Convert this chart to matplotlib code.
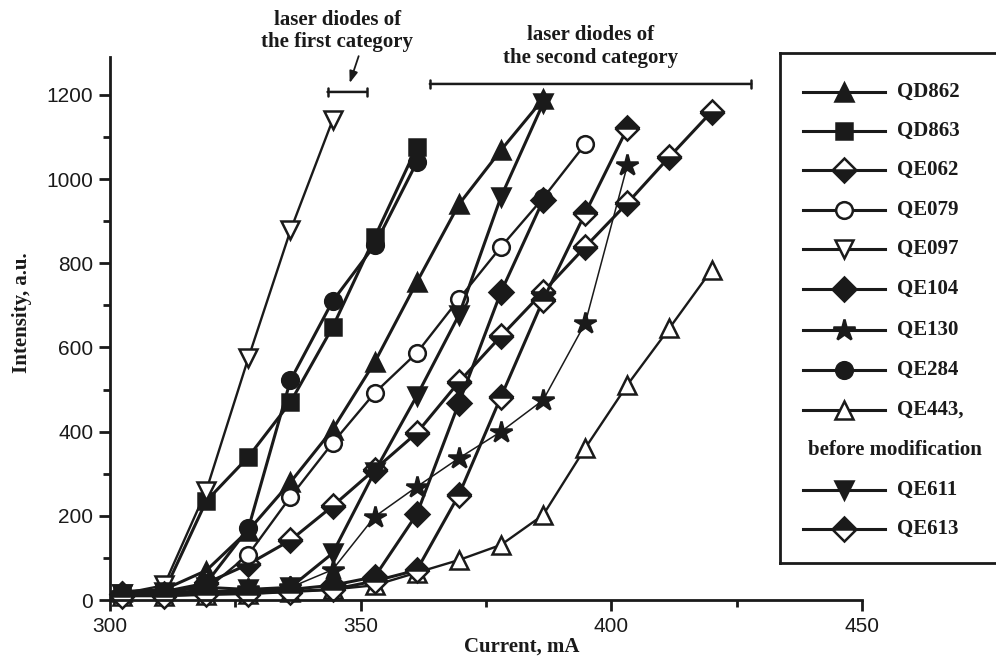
import matplotlib
matplotlib.use("Agg")
import matplotlib.pyplot as plt
from matplotlib.lines import Line2D

# ---------------- data ----------------
currents = [302.4, 310.8, 319.2, 327.6, 336.0, 344.4, 352.8, 361.2, 369.6,
            378.0, 386.4, 394.8, 403.2, 411.6, 420.0]

qd862 = [20, 25, 70, 165, 280, 405, 565, 755, 940, 1069, 1190]
qd863 = [15, 20, 235, 340, 470, 648, 862, 1076]
qe062 = [15, 20, 40, 85, 142, 223, 310, 397, 518, 627, 732, 839, 943, 1053, 1160]
qe079 = [10, 15, 25, 108, 245, 373, 492, 587, 715, 839, 955, 1083]
qe097 = [15, 35, 260, 575, 878, 1140]
qe104 = [15, 15, 20, 20, 25, 35, 55, 204, 468, 732, 950]
qe130 = [15, 15, 20, 25, 30, 72, 198, 269, 337, 400, 475, 658, 1033]
qe284 = [15, 15, 40, 170, 522, 710, 843, 1040]
qe443 = [10, 10, 12, 15, 20, 25, 35, 65, 95, 131, 202, 361, 511, 646, 784]
qe611 = [15, 20, 30, 25, 30, 111, 305, 485, 677, 958, 1180]
qe613 = [10, 10, 15, 15, 20, 25, 45, 71, 250, 483, 713, 919, 1121]

names = ["QD862", "QD863", "QE062", "QE079", "QE097", "QE104", "QE130",
         "QE284", "QE443,", "QE611", "QE613"]
series = [qd862, qd863, qe062, qe079, qe097, qe104, qe130, qe284, qe443, qe611, qe613]

first_cat = [343.4, 351.2]
second_cat = [363.8, 427.9]

# ---------------- styles ----------------
K = "#1a1a1a"
styles = [
    dict(marker="^", mfc=K, ms=13, lw=2.2),
    dict(marker="s", mfc=K, ms=11, lw=2.2),
    dict(marker="D", mfc=K, mfcalt="white", fillstyle="bottom", ms=12, lw=2.2),
    dict(marker="o", mfc="white", ms=12, lw=1.7),
    dict(marker="v", mfc="white", ms=13, lw=1.7),
    dict(marker="D", mfc=K, ms=12, lw=2.2),
    dict(marker="*", mfc=K, ms=16, lw=1.1),
    dict(marker="o", mfc=K, ms=12, lw=2.2),
    dict(marker="^", mfc="white", ms=13, lw=1.7),
    dict(marker="v", mfc=K, ms=13, lw=2.2),
    dict(marker="D", mfc=K, mfcalt="white", fillstyle="top", ms=12, lw=2.2),
]

def kw(st):
    d = dict(color=K, marker=st["marker"], markersize=st["ms"],
             markerfacecolor=st["mfc"], markeredgecolor=K, markeredgewidth=1.8,
             linewidth=st["lw"])
    if "fillstyle" in st:
        d["fillstyle"] = st["fillstyle"]
        d["markerfacecoloralt"] = st["mfcalt"]
    return d

serif = ["Liberation Serif", "DejaVu Serif"]
sans = ["Liberation Sans", "DejaVu Sans"]
FS = 15

W, H = 996, 662
fig = plt.figure(figsize=(W / 100, H / 100), dpi=100)

# main axes: x 300->110px, 450->862px ; y 0->600px, top 57px
ax = fig.add_axes([110 / W, (H - 600) / H, (862 - 110) / W, (600 - 57) / H])
for vals, st in zip(series, styles):
    ax.plot(currents[:len(vals)], vals, clip_on=False, **kw(st))

ax.set_xlim(300, 450)
ax.set_ylim(0, 1290)
ax.set_xticks([300, 350, 400, 450])
ax.set_xticks([325, 375, 425], minor=True)
ax.set_yticks([0, 200, 400, 600, 800, 1000, 1200])
ax.set_yticks([100, 300, 500, 700, 900, 1100], minor=True)
for s in ["top", "right"]:
    ax.spines[s].set_visible(False)
for s in ["left", "bottom"]:
    ax.spines[s].set_linewidth(2.0)
    ax.spines[s].set_color(K)
ax.tick_params(which="major", direction="out", length=8, width=2, color=K,
               labelsize=FS, pad=4)
ax.tick_params(which="minor", direction="out", length=5, width=2, color=K)
for lab in ax.get_xticklabels() + ax.get_yticklabels():
    lab.set_fontfamily(sans)
    lab.set_color(K)

ax.set_xlabel("Current, mA", fontfamily=serif, fontweight="bold", fontsize=FS, color=K)
ax.xaxis.set_label_coords(0.547, -0.068)
ax.set_ylabel("Intensity, a.u.", fontfamily=serif, fontweight="bold", fontsize=FS, color=K)
ax.yaxis.set_label_coords(-0.104, 0.53)

# category brackets
ax.annotate("", xy=(first_cat[0], 1207), xytext=(first_cat[1], 1207),
            xycoords="data", annotation_clip=False,
            arrowprops=dict(arrowstyle="|-|,widthA=0.3,widthB=0.3", lw=1.8, color=K,
                            shrinkA=0, shrinkB=0))
ax.annotate("", xy=(second_cat[0], 1226), xytext=(second_cat[1], 1226),
            xycoords="data", annotation_clip=False,
            arrowprops=dict(arrowstyle="|-|,widthA=0.3,widthB=0.3", lw=1.8, color=K,
                            shrinkA=0, shrinkB=0))
ax.annotate("", xy=(347.8, 1228), xytext=(349.6, 1292),
            xycoords="data", annotation_clip=False,
            arrowprops=dict(arrowstyle="-|>,head_length=0.7,head_width=0.25", lw=1.3,
                            color=K, shrinkA=0, shrinkB=0))
ax.text(345.3, 1352, "laser diodes of\nthe first category", ha="center", va="center",
        fontfamily=serif, fontweight="bold", fontsize=FS, color=K,
        linespacing=1.15, clip_on=False)
ax.text(395.8, 1315, "laser diodes of\nthe second category", ha="center", va="center",
        fontfamily=serif, fontweight="bold", fontsize=FS, color=K,
        linespacing=1.15, clip_on=False)

# legend box (pixel coordinates)
lax = fig.add_axes([780 / W, (H - 563) / H, (1003 - 780) / W, (563 - 53) / H])
lax.set_xlim(780, 1003)
lax.set_ylim(563, 53)
lax.set_xticks([])
lax.set_yticks([])
for s in lax.spines.values():
    s.set_linewidth(2.0)
    s.set_color(K)
ys = [92, 131, 170, 210, 249, 289, 330, 370, 410, 490, 529]
for name, st, yy in zip(names, styles, ys):
    dl = kw(st)
    dl["marker"] = "None"
    dl["linewidth"] = 2.2
    lax.add_line(Line2D([803, 885], [yy, yy], **dl))
    d = kw(st)
    d["linewidth"] = 0
    lax.add_line(Line2D([844], [yy], **d))
    lax.text(897, yy, name, ha="left", va="center", fontfamily=serif,
             fontweight="bold", fontsize=FS, color=K)
lax.text(808, 450, "before modification", ha="left", va="center", fontfamily=serif,
         fontweight="bold", fontsize=FS, color=K)

fig.savefig("out.png", dpi=100)
